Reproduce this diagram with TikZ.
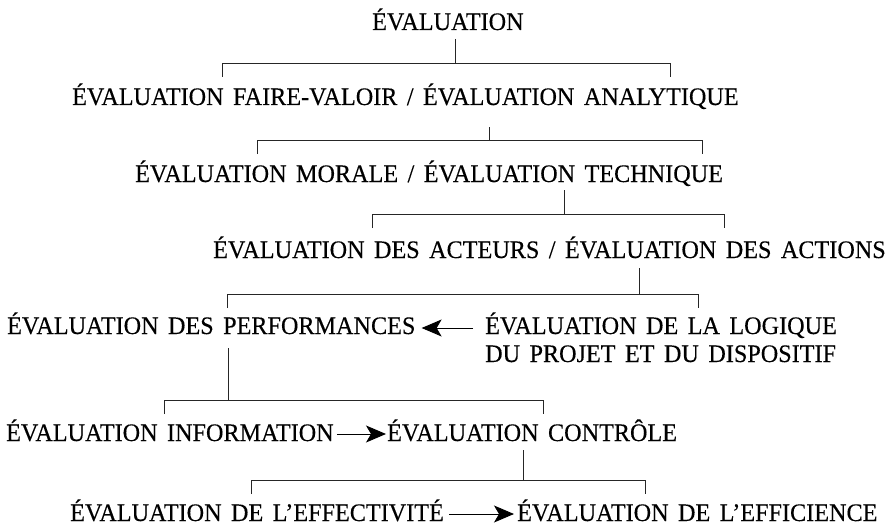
\documentclass[tikz,border=0pt]{standalone}
\usepackage{fontspec}
\setmainfont{Liberation Serif}[WordSpace=1.56, FakeStretch=0.96, FakeBold=0.3]
\usetikzlibrary{calc}
\usetikzlibrary{arrows.meta}
\tikzset{eval/.style={anchor=base west, inner sep=0pt, font=\fontsize{25.2}{28}\selectfont}}
\tikzset{bracket/.style={black!85, line width=0.8pt}}
\tikzset{link/.style={black, line width=0.9pt, -{Stealth[length=20pt,width=17pt,inset=5pt]}}}

\begin{document}
\begin{tikzpicture}[x=1pt,y=-1pt]
\useasboundingbox (0,0) rectangle (892,527);
\node[eval] (top) at (372,30) {ÉVALUATION};
\node[eval] (fv) at (72,105) {ÉVALUATION FAIRE-VALOIR / ÉVALUATION ANALYTIQUE};
\node[eval] (mt) at (135,182) {ÉVALUATION MORALE / ÉVALUATION TECHNIQUE};
\node[eval] (aa) at (213,258) {ÉVALUATION DES ACTEURS / ÉVALUATION DES ACTIONS};
\node[eval] (perf) at (7,334) {ÉVALUATION DES PERFORMANCES};
\node[eval] (logic) at (485,334) {\begin{tabular}[t]{@{}l@{}}ÉVALUATION DE LA LOGIQUE\\DU PROJET ET DU DISPOSITIF\end{tabular}};
\node[eval] (info) at (6,441) {ÉVALUATION INFORMATION};
\node[eval] (ctrl) at (387,441) {ÉVALUATION CONTRÔLE};
\node[eval] (effect) at (70,521) {ÉVALUATION DE L’EFFECTIVITÉ};
\node[eval] (effic) at (517,521) {ÉVALUATION DE L’EFFICIENCE};
% forks: parent / fork / stem x / gap / fork y / left x / right x
\foreach \p/\f/\sx/\gap/\fy/\lx/\rx in {top/f1/455/9/63/222/670, fv/f2/489/22/140/257/702,
  mt/f3/564/8/214/372/724, aa/f4/639/10/294/227/698, perf/f5/228/14/400/164/543, ctrl/f6/523/9/480/251/645}{
  \coordinate (\f) at (\sx,\fy);
  \draw[bracket] ($(\p.base -| \f)+(0,\gap)$) -- (\f);
  \draw[bracket] (\lx,\fy+14) -- (\lx,\fy) -- (\rx,\fy) -- (\rx,\fy+14);
}
\draw[link] ($(logic.base west)+(-12,-6)$) -- ($(perf.base east)+(6,-6)$);
\draw[link] ($(info.base east)+(3,-7)$) -- ($(ctrl.base west)+(-1,-7)$);
\draw[link] ($(effect.base east)+(5,-7)$) -- ($(effic.base west)+(-3,-7)$);
\end{tikzpicture}
\end{document}
